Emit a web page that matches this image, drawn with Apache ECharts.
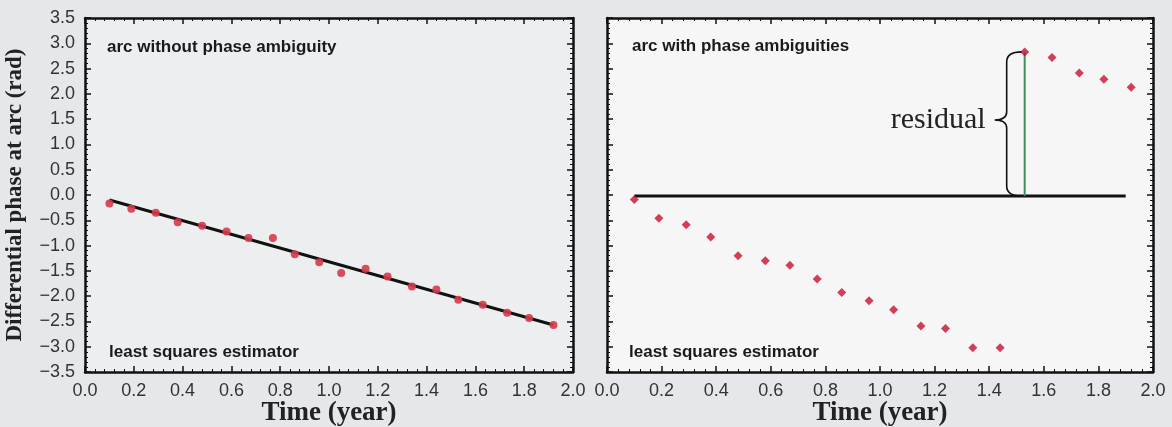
<!DOCTYPE html>
<html>
<head>
<meta charset="utf-8">
<script src="https://cdn.jsdelivr.net/npm/echarts@6/dist/echarts.min.js"></script>
<style>
  html, body { margin: 0; padding: 0; background: #e6e7ea; }
  #chart { width: 1172px; height: 427px; }
</style>
</head>
<body>
<div id="chart"></div>
<script>
// Acquisition times (year), shared by both arcs
const times = [0.10, 0.19, 0.29, 0.38, 0.48, 0.58, 0.67, 0.77, 0.86, 0.96,
               1.05, 1.15, 1.24, 1.34, 1.44, 1.53, 1.63, 1.73, 1.82, 1.92];
// Differential phase (rad) on the arc without ambiguity
const leftPhase = [-0.17, -0.27, -0.35, -0.54, -0.61, -0.72, -0.85, -0.85, -1.17, -1.33,
                   -1.54, -1.46, -1.61, -1.81, -1.87, -2.07, -2.17, -2.33, -2.43, -2.57];
// Differential phase (rad) on the arc with phase ambiguities (wrapped)
const rightPhase = [-0.09, -0.46, -0.59, -0.83, -1.20, -1.30, -1.39, -1.66, -1.93, -2.09,
                    -2.27, -2.59, -2.64, -3.02, -3.02, 2.83, 2.72, 2.41, 2.29, 2.13];
// Least squares estimator lines (end points)
const leftFitX = [0.10, 1.92];
const leftFitY = [-0.10, -2.57];
const rightFitX = [0.10, 1.90];
const rightFitY = [-0.02, -0.02];
// Observation whose residual is marked
const residualIndex = 15;

const xTicks = ['0.0', '0.2', '0.4', '0.6', '0.8', '1.0', '1.2', '1.4', '1.6', '1.8', '2.0'];
const yTicks = ['-3.5', '-3.0', '-2.5', '-2.0', '-1.5', '-1.0', '-0.5', '0.0', '0.5', '1.0', '1.5', '2.0', '2.5', '3.0', '3.5'];

const zip = (xs, ys) => xs.map((x, i) => [x, ys[i]]);
const rightFitAt = rightFitY[0];
const residualT = times[residualIndex];

const chart = echarts.init(document.getElementById('chart'), null, { renderer: 'canvas' });

const frame = { show: true, onZero: false, lineStyle: { color: '#111', width: 2.5 } };
const tickIn = { show: true, inside: true, length: 6, lineStyle: { color: '#111', width: 1.5 } };
const minorIn = (n) => ({ show: true, splitNumber: n, length: 3, lineStyle: { color: '#111', width: 1 } });
const tickLabelFont = { fontFamily: 'Liberation Sans', fontSize: 18, color: '#333' };

function xAxisPair(gridIndex, showName) {
  const base = {
    type: 'value', gridIndex, min: 0, max: 2, interval: 0.2,
    axisLine: frame, axisTick: tickIn, minorTick: minorIn(5), splitLine: { show: false }
  };
  return [
    Object.assign({}, base, {
      position: 'bottom',
      axisLabel: Object.assign({ margin: 10, formatter: (v) => xTicks[Math.round(v / 0.2)] }, tickLabelFont),
      name: showName ? 'Time (year)' : '', nameLocation: 'middle', nameGap: 28, nameMoveOverlap: false,
      nameTextStyle: { fontFamily: 'Liberation Serif', fontWeight: 'bold', fontSize: 27, color: '#222' }
    }),
    Object.assign({}, base, { position: 'top', axisLabel: { show: false } })
  ];
}

function yAxisPair(gridIndex, withLabels) {
  const base = {
    type: 'value', gridIndex, min: -3.5, max: 3.5, interval: 0.5,
    axisLine: frame, axisTick: tickIn, minorTick: minorIn(5), splitLine: { show: false }
  };
  const left = Object.assign({}, base, { position: 'left', axisLabel: { show: false } });
  if (withLabels) {
    left.axisLabel = Object.assign({
      margin: 10,
      formatter: (v) => yTicks[Math.round((v + 3.5) / 0.5)].replace('-', '\u2212')
    }, tickLabelFont);
    left.name = 'Differential phase at arc (rad)';
    left.nameLocation = 'middle';
    left.nameGap = 58;
    left.nameMoveOverlap = false;
    left.nameTextStyle = { fontFamily: 'Liberation Serif', fontWeight: 'bold', fontSize: 23, color: '#222' };
  }
  return [left, Object.assign({}, base, { position: 'right', axisLabel: { show: false } })];
}

const xAxes = xAxisPair(0, true).concat(xAxisPair(1, true));
const yAxes = yAxisPair(0, true).concat(yAxisPair(1, false));

// Curly brace spanning the residual, with its label
function renderBrace(params, api) {
  const top = api.coord([api.value(0), api.value(2)]);
  const bot = api.coord([api.value(0), api.value(1)]);
  const stem = top[0] - 18;
  const tip = stem - 12;
  const endX = top[0] - 3;
  const midY = (top[1] + bot[1]) / 2 - 4;
  const r = 10;
  const path =
    'M' + endX + ' ' + top[1] +
    ' Q' + stem + ' ' + top[1] + ' ' + stem + ' ' + (top[1] + r) +
    ' L' + stem + ' ' + (midY - 8) +
    ' Q' + stem + ' ' + midY + ' ' + tip + ' ' + midY +
    ' Q' + stem + ' ' + midY + ' ' + stem + ' ' + (midY + 8) +
    ' L' + stem + ' ' + (bot[1] - r) +
    ' Q' + stem + ' ' + bot[1] + ' ' + endX + ' ' + bot[1];
  return {
    type: 'group',
    children: [
      { type: 'path', shape: { pathData: path }, style: { fill: 'none', stroke: '#111', lineWidth: 1.6 } },
      { type: 'text', x: tip - 9, y: midY,
        style: { text: 'residual', font: '30px "Liberation Serif"', fill: '#222', align: 'right', verticalAlign: 'middle' } }
    ]
  };
}

const annotationFont = 'bold 17px "Liberation Sans"';
const option = {
  backgroundColor: '#e6e7ea',
  animation: false,
  grid: [
    { left: 85, top: 18, width: 488, height: 354, outerBoundsMode: 'none', containLabel: false,
      show: true, backgroundColor: '#eceef0', borderWidth: 0 },
    { left: 607, top: 18, width: 546, height: 354, outerBoundsMode: 'none', containLabel: false,
      show: true, backgroundColor: '#f6f6f6', borderWidth: 0 }
  ],
  xAxis: xAxes,
  yAxis: yAxes,
  graphic: [
    { type: 'text', x: 107, y: 47, style: { text: 'arc without phase ambiguity', font: annotationFont, fill: '#1a1a1a', verticalAlign: 'middle' } },
    { type: 'text', x: 109, y: 352, style: { text: 'least squares estimator', font: annotationFont, fill: '#1a1a1a', verticalAlign: 'middle' } },
    { type: 'text', x: 632, y: 46, style: { text: 'arc with phase ambiguities', font: annotationFont, fill: '#1a1a1a', verticalAlign: 'middle' } },
    { type: 'text', x: 629, y: 352, style: { text: 'least squares estimator', font: annotationFont, fill: '#1a1a1a', verticalAlign: 'middle' } }
  ],
  series: [
    { type: 'line', xAxisIndex: 0, yAxisIndex: 0, data: zip(leftFitX, leftFitY), symbol: 'none',
      lineStyle: { color: '#111', width: 3 }, z: 3 },
    { type: 'scatter', xAxisIndex: 0, yAxisIndex: 0, data: zip(times, leftPhase), symbol: 'circle', symbolSize: 8,
      itemStyle: { color: '#d63a4e', opacity: 0.9 }, z: 4 },
    { type: 'line', xAxisIndex: 2, yAxisIndex: 2, data: zip(rightFitX, rightFitY), symbol: 'none',
      lineStyle: { color: '#111', width: 3 }, z: 3 },
    { type: 'line', xAxisIndex: 2, yAxisIndex: 2,
      data: [[residualT, rightFitAt], [residualT, rightPhase[residualIndex]]], symbol: 'none',
      lineStyle: { color: '#3f8f5c', width: 2 }, z: 3 },
    { type: 'custom', xAxisIndex: 2, yAxisIndex: 2,
      data: [[residualT, rightFitAt, rightPhase[residualIndex]]], renderItem: renderBrace, z: 5, silent: true },
    { type: 'scatter', xAxisIndex: 2, yAxisIndex: 2, data: zip(times, rightPhase), symbol: 'diamond', symbolSize: 9,
      itemStyle: { color: '#c8102e' }, z: 4 }
  ]
};
chart.setOption(option);
</script>
</body>
</html>
